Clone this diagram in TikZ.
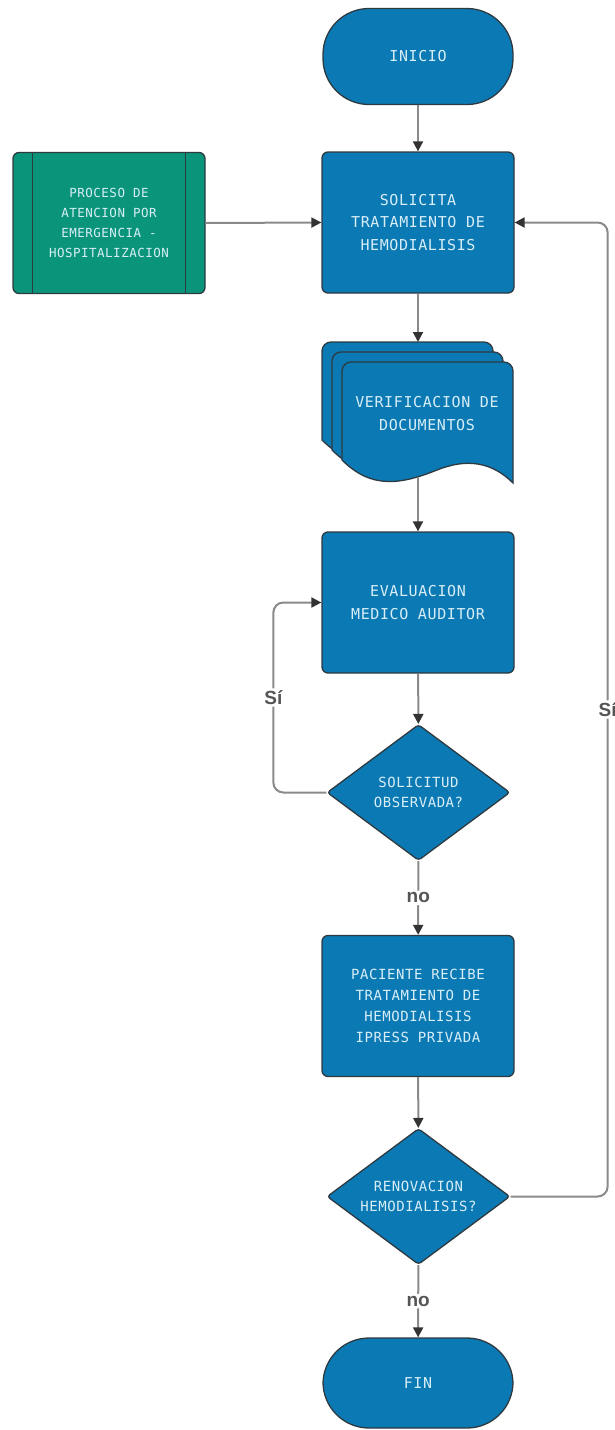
\documentclass[tikz,border=0pt]{standalone}
\usepackage{fontspec}
\newfontfamily\boxfont[LetterSpace=4]{DejaVu Sans Mono}
\newfontfamily\labelfont{Liberation Sans}
\usetikzlibrary{arrows.meta,shapes.geometric}

\definecolor{boxblue}{HTML}{0B79B4}
\definecolor{boxgreen}{HTML}{0A957A}
\definecolor{edgec}{HTML}{2E3A40}
\definecolor{boxtext}{HTML}{D8EEF7}
\definecolor{linec}{HTML}{8A8A8A}
\definecolor{tipc}{HTML}{333333}
\definecolor{lblc}{HTML}{555555}

\begin{document}
\begin{tikzpicture}[x=1pt,y=-1pt,
  proc/.style={draw=edgec, line width=1.3pt, fill=boxblue, rounded corners=6pt,
    minimum width=192pt, minimum height=141pt, text=boxtext, align=center,
    font=\boxfont\fontsize{15}{22.5}\selectfont, inner sep=2pt},
  term/.style={proc, rounded corners=46pt, minimum width=190pt, minimum height=96pt},
  decis/.style={diamond, aspect=1.35, draw=edgec, line width=1.3pt, fill=boxblue, rounded corners=3pt,
    minimum width=183pt, minimum height=136pt, inner sep=0pt, text=boxtext, align=center,
    font=\boxfont\fontsize{14}{20}\selectfont},
  docshape/.style={draw=edgec, line width=1.3pt, fill=boxblue},
  flow/.style={draw=linec, line width=2pt, rounded corners=10pt,
    -{Triangle[length=10pt,width=10pt,color=tipc]}},
  lbl/.style={fill=white, text=lblc, inner sep=2pt,
    font=\labelfont\bfseries\fontsize{19}{20}\selectfont}
]
\useasboundingbox (0,0) rectangle (614,1430);

% main column
\node[term] (ini) at (418,56.5) {INICIO};
\node[proc] (sol) at (418,222.5) {SOLICITA\\TRATAMIENTO DE\\HEMODIALISIS};
\node[proc, fill=boxgreen, font=\boxfont\fontsize{12.5}{20}\selectfont] (eme) at (109,223)
  {PROCESO DE\\ATENCION POR\\EMERGENCIA -\\HOSPITALIZACION};
\draw[draw=edgec, line width=1.3pt] ([xshift=20pt]eme.north west) -- ([xshift=20pt]eme.south west);
\draw[draw=edgec, line width=1.3pt] ([xshift=-20pt]eme.north east) -- ([xshift=-20pt]eme.south east);

% stacked documents
\foreach \xo/\yo in {322/342, 332/352, 342/362}{
  \path[docshape] (\xo+171,\yo+121) -- (\xo+171,\yo+40)
    [rounded corners=9pt] -- (\xo+171,\yo) -- (\xo,\yo) -- (\xo,\yo+40)
    [sharp corners] -- (\xo,\yo+98)
    .. controls (\xo+30,\yo+128) and (\xo+60,\yo+122) .. (\xo+95,\yo+108)
    .. controls (\xo+125,\yo+96) and (\xo+150,\yo+100) .. (\xo+171,\yo+121) -- cycle;
}
\node[text=boxtext, align=center, font=\boxfont\fontsize{15}{22.5}\selectfont] (ver) at (427,413.5)
  {VERIFICACION DE\\DOCUMENTOS};
\coordinate (docTop) at (418,342);
\coordinate (docBot) at (418,477);

\node[proc] (eva) at (418,602.5) {EVALUACION\\MEDICO AUDITOR};
\node[decis] (obs) at (418.5,792.5) {SOLICITUD\\OBSERVADA?};
\node[proc, font=\boxfont\fontsize{14}{21}\selectfont] (pac) at (418,1006)
  {PACIENTE RECIBE\\TRATAMIENTO DE\\HEMODIALISIS\\IPRESS PRIVADA};
\node[decis] (ren) at (418.5,1196.5) {RENOVACION\\HEMODIALISIS?};
\node[term, minimum height=90pt] (fin) at (418,1383) {FIN};

% connectors
\draw[flow] (ini) -- (sol);
\draw[flow] (eme.east) -- (sol.west);
\draw[flow] (sol) -- (docTop);
\draw[flow] (docBot) -- (eva);
\draw[flow] (eva) -- (obs);
\draw[flow] (obs.west) -| node[lbl, pos=0.75] {Sí} ([xshift=-48pt]eva.west) -- (eva.west);
\draw[flow] (obs) -- node[lbl] {no} (pac);
\draw[flow] (pac) -- (ren);
\draw[flow] (ren.east) -| node[lbl, pos=0.75] {Sí} ([xshift=93pt]sol.east) -- (sol.east);
\draw[flow] (ren) -- node[lbl] {no} (fin);
\end{tikzpicture}
\end{document}
